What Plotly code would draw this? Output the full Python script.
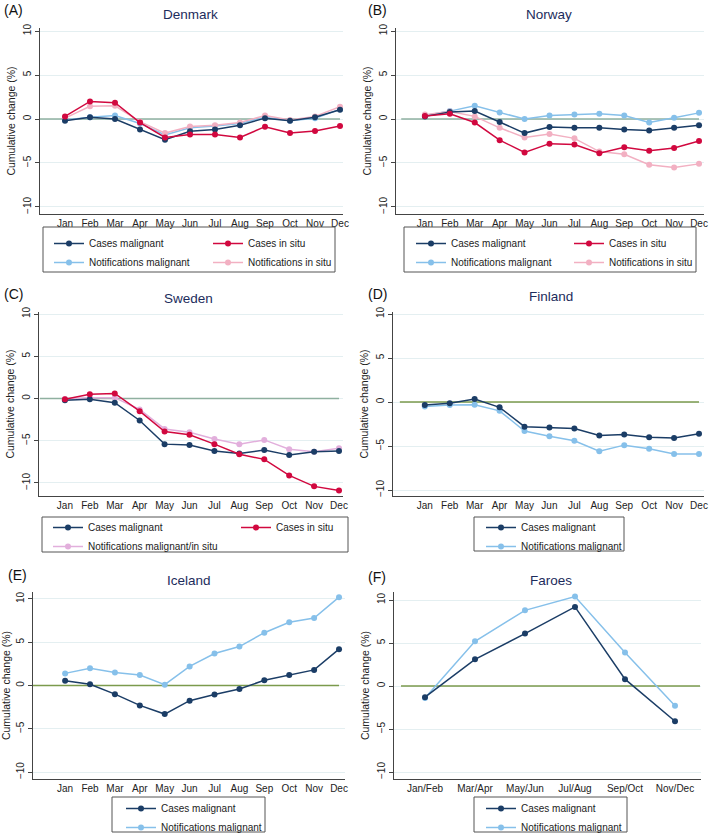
import plotly.graph_objects as go

# ---- data ----
months = ['Jan', 'Feb', 'Mar', 'Apr', 'May', 'Jun', 'Jul', 'Aug', 'Sep', 'Oct', 'Nov', 'Dec']
bimonths = ['Jan/Feb', 'Mar/Apr', 'May/Jun', 'Jul/Aug', 'Sep/Oct', 'Nov/Dec']

dk_cases_mal = [-0.2, 0.2, 0.0, -1.2, -2.35, -1.4, -1.2, -0.7, 0.1, -0.2, 0.2, 1.05]
dk_cases_insitu = [0.3, 2.0, 1.85, -0.4, -2.1, -1.75, -1.75, -2.1, -0.87, -1.6, -1.36, -0.8]
dk_notif_mal = [-0.1, 0.2, 0.4, -0.5, -1.8, -1.0, -0.8, -0.5, 0.2, -0.2, 0.1, 1.1]
dk_notif_insitu = [0.1, 1.45, 1.5, -0.3, -1.6, -0.85, -0.7, -0.4, 0.4, -0.1, 0.3, 1.4]

no_cases_mal = [0.3, 0.8, 0.9, -0.35, -1.6, -0.9, -1.0, -1.0, -1.2, -1.3, -1.0, -0.7]
no_cases_insitu = [0.35, 0.6, -0.4, -2.4, -3.8, -2.8, -2.9, -3.9, -3.2, -3.6, -3.3, -2.5]
no_notif_mal = [0.4, 0.9, 1.5, 0.75, 0.0, 0.4, 0.5, 0.6, 0.4, -0.4, 0.15, 0.7]
no_notif_insitu = [0.5, 0.85, 0.3, -1.0, -2.1, -1.7, -2.2, -3.7, -4.0, -5.2, -5.5, -5.1]

se_cases_mal = [-0.2, -0.1, -0.5, -2.6, -5.4, -5.5, -6.2, -6.5, -6.1, -6.7, -6.3, -6.2]
se_cases_insitu = [-0.1, 0.5, 0.6, -1.5, -3.9, -4.3, -5.4, -6.6, -7.2, -9.1, -10.4, -10.9]
se_notif_all = [-0.05, 0.1, 0.1, -1.3, -3.6, -4.0, -4.8, -5.4, -4.9, -6.0, -6.3, -5.9]

fi_cases_mal = [-0.35, -0.15, 0.35, -0.6, -2.8, -2.9, -3.0, -3.8, -3.7, -4.0, -4.1, -3.6]
fi_notif_mal = [-0.5, -0.35, -0.3, -1.0, -3.3, -3.9, -4.4, -5.6, -4.9, -5.3, -5.9, -5.9]

is_cases_mal = [0.55, 0.15, -1.0, -2.3, -3.3, -1.75, -1.05, -0.4, 0.6, 1.2, 1.8, 4.2]
is_notif_mal = [1.4, 2.0, 1.5, 1.2, 0.1, 2.2, 3.7, 4.5, 6.1, 7.3, 7.8, 10.2]

fo_cases_mal = [-1.3, 3.1, 6.1, 9.2, 0.8, -4.1]
fo_notif_mal = [-1.4, 5.2, 8.8, 10.4, 3.9, -2.3]

NAVY = '#1b3d66'
LTBLUE = '#86c0ea'
RED = '#d1083f'
PINK = '#f2b0c2'
LILAC = '#e2afdc'
ZERO_GREY = '#8fb0a0'
ZERO_GREEN = '#7b9a4c'
GRID = '#e4eff1'
TITLE_COL = '#1c2c5c'
FONT = 'Arial, Liberation Sans, sans-serif'

W, H = 709, 833


def px_x(p):
    return p / W


def px_y(p):
    return 1 - p / H


fig = go.Figure()

# panel setup: axis suffix, title, letter, x px domain, y px domain, x range, y range,
# zero-line colour, zero-line x extent, title pos (px), letter pos (px)
panels = [
    ('', 'Denmark', '(A)', (40, 343), (28, 214), (-1.0, 11.12), (-10.8, 10.35), ZERO_GREY, (-1.0, 11), (190, 15), (2, 10)),
    ('2', 'Norway', '(B)', (396, 704), (28, 214), (-1.16, 11.2), (-10.8, 10.35), ZERO_GREY, (-0.95, 11), (549, 15), (366, 10)),
    ('3', 'Sweden', '(C)', (39, 343), (312, 496), (-1.04, 11.16), (-11.54, 10.24), ZERO_GREY, (-1.0, 11), (189, 298), (2, 294)),
    ('4', 'Finland', '(D)', (393, 704), (312, 496), (-1.275, 11.2), (-10.68, 10.23), ZERO_GREEN, (-1.0, 11), (551, 297), (366, 294)),
    ('5', 'Iceland', '(E)', (33, 345), (592, 779), (-1.29, 11.24), (-10.8, 10.8), ZERO_GREEN, (-1.29, 11), (189, 580), (6, 575)),
    ('6', 'Faroes', '(F)', (394, 701), (592, 779), (-0.62, 5.52), (-10.81, 10.93), ZERO_GREEN, (-0.48, 5.5), (551, 580), (366, 577)),
]

series = [
    # (panel idx, x cats, y, name, colour, legend)
    (0, months, dk_cases_mal, 'Cases malignant', NAVY, 'legend'),
    (0, months, dk_notif_mal, 'Notifications malignant', LTBLUE, 'legend'),
    (0, months, dk_cases_insitu, 'Cases in situ', RED, 'legend2'),
    (0, months, dk_notif_insitu, 'Notifications in situ', PINK, 'legend2'),
    (1, months, no_cases_mal, 'Cases malignant', NAVY, 'legend3'),
    (1, months, no_notif_mal, 'Notifications malignant', LTBLUE, 'legend3'),
    (1, months, no_cases_insitu, 'Cases in situ', RED, 'legend4'),
    (1, months, no_notif_insitu, 'Notifications in situ', PINK, 'legend4'),
    (2, months, se_cases_mal, 'Cases malignant', NAVY, 'legend5'),
    (2, months, se_notif_all, 'Notifications malignant/in situ', LILAC, 'legend5'),
    (2, months, se_cases_insitu, 'Cases in situ', RED, 'legend6'),
    (3, months, fi_cases_mal, 'Cases malignant', NAVY, 'legend7'),
    (3, months, fi_notif_mal, 'Notifications malignant', LTBLUE, 'legend7'),
    (4, months, is_cases_mal, 'Cases malignant', NAVY, 'legend8'),
    (4, months, is_notif_mal, 'Notifications malignant', LTBLUE, 'legend8'),
    (5, bimonths, fo_cases_mal, 'Cases malignant', NAVY, 'legend9'),
    (5, bimonths, fo_notif_mal, 'Notifications malignant', LTBLUE, 'legend9'),
]

# zero reference lines: above the grid, below the data
for suf, title, letter, xd, yd, xr, yr, zc, zx, tpos, lpos in panels:
    fig.add_shape(type='line', xref='x' + suf, yref='y' + suf,
                  x0=zx[0], x1=zx[1], y0=0, y1=0,
                  line=dict(color=zc, width=1.6), layer='between')

# draw order: light series under dark ones
order = sorted(range(len(series)), key=lambda i: 0 if series[i][4] in (LTBLUE, PINK, LILAC) else 1)
for i in order:
    p, xc, yv, name, col, leg = series[i]
    suf = panels[p][0]
    fig.add_trace(go.Scatter(
        x=xc, y=yv, name=name, mode='lines+markers',
        line=dict(color=col, width=1.5),
        marker=dict(color=col, size=6),
        xaxis='x' + suf, yaxis='y' + suf, legend=leg,
        legendrank=i, hoverinfo='x+y+name',
    ))

axis_font = dict(family=FONT, size=10, color='#222222')
for suf, title, letter, xd, yd, xr, yr, zc, zx, tpos, lpos in panels:
    fig.update_layout(**{
        'xaxis' + suf: dict(
            domain=[px_x(xd[0]), px_x(xd[1])], range=list(xr), type='category',
            anchor='y' + suf, showline=True, linecolor='#444444', linewidth=1,
            showgrid=False, ticks='', tickfont=axis_font, zeroline=False,
            automargin=False, fixedrange=True,
        ),
        'yaxis' + suf: dict(
            domain=[px_y(yd[1]), px_y(yd[0])], range=list(yr),
            anchor='x' + suf, showline=True, linecolor='#444444', linewidth=1,
            tickvals=[-10, -5, 0, 5, 10], ticktext=['\u221210', '\u22125', '0', '5', '10'],
            ticks='outside', ticklen=4, tickcolor='#444444', tickangle=-90,
            tickfont=axis_font, showgrid=True, gridcolor=GRID, gridwidth=1,
            zeroline=False, automargin=False, fixedrange=True,
            title=dict(text='Cumulative change (%)', font=dict(family=FONT, size=10.5, color='#222222'), standoff=4),
        ),
    })
    fig.add_annotation(text=title, xref='paper', yref='paper', x=px_x(tpos[0]), y=px_y(tpos[1]),
                       xanchor='center', yanchor='middle', showarrow=False,
                       font=dict(family=FONT, size=13.5, color=TITLE_COL))
    fig.add_annotation(text=letter, xref='paper', yref='paper', x=px_x(lpos[0]), y=px_y(lpos[1]),
                       xanchor='left', yanchor='middle', showarrow=False,
                       font=dict(family=FONT, size=14, color='#111111'))

# legend frames (px boxes)
frames = [(43, 335, 227, 272), (404, 696, 227, 272), (42, 348, 517, 552),
          (474, 624, 517, 551), (112, 265, 797, 832), (474, 627, 797, 832)]
for x0, x1, y0, y1 in frames:
    fig.add_shape(type='rect', xref='paper', yref='paper',
                  x0=px_x(x0), x1=px_x(x1), y0=px_y(y1), y1=px_y(y0),
                  line=dict(color='#555555', width=1), fillcolor='rgba(0,0,0,0)')

# legend anchors (px, top-left)
leg_pos = {
    'legend': (49, 229), 'legend2': (208, 229),
    'legend3': (411, 229), 'legend4': (569, 229),
    'legend5': (48, 513), 'legend6': (236, 513),
    'legend7': (481, 513), 'legend8': (121, 794), 'legend9': (481, 794),
}
leg_font = dict(family=FONT, size=10, color='#222222')
for k, (lx, ly) in leg_pos.items():
    fig.update_layout(**{k: dict(
        x=px_x(lx), y=px_y(ly), xanchor='left', yanchor='top',
        orientation='v', bgcolor='rgba(0,0,0,0)', borderwidth=0,
        font=leg_font, tracegroupgap=0, traceorder='normal',
    )})

fig.update_layout(
    width=W, height=H, margin=dict(l=0, r=0, t=0, b=0, pad=0, autoexpand=False),
    paper_bgcolor='white', plot_bgcolor='white',
    font=dict(family=FONT), showlegend=True,
)

# drop the default page margin so the figure sits at the window's corner
fig.write_html('out.html', config={'displayModeBar': False},
               post_script="document.body.style.margin='0';")
